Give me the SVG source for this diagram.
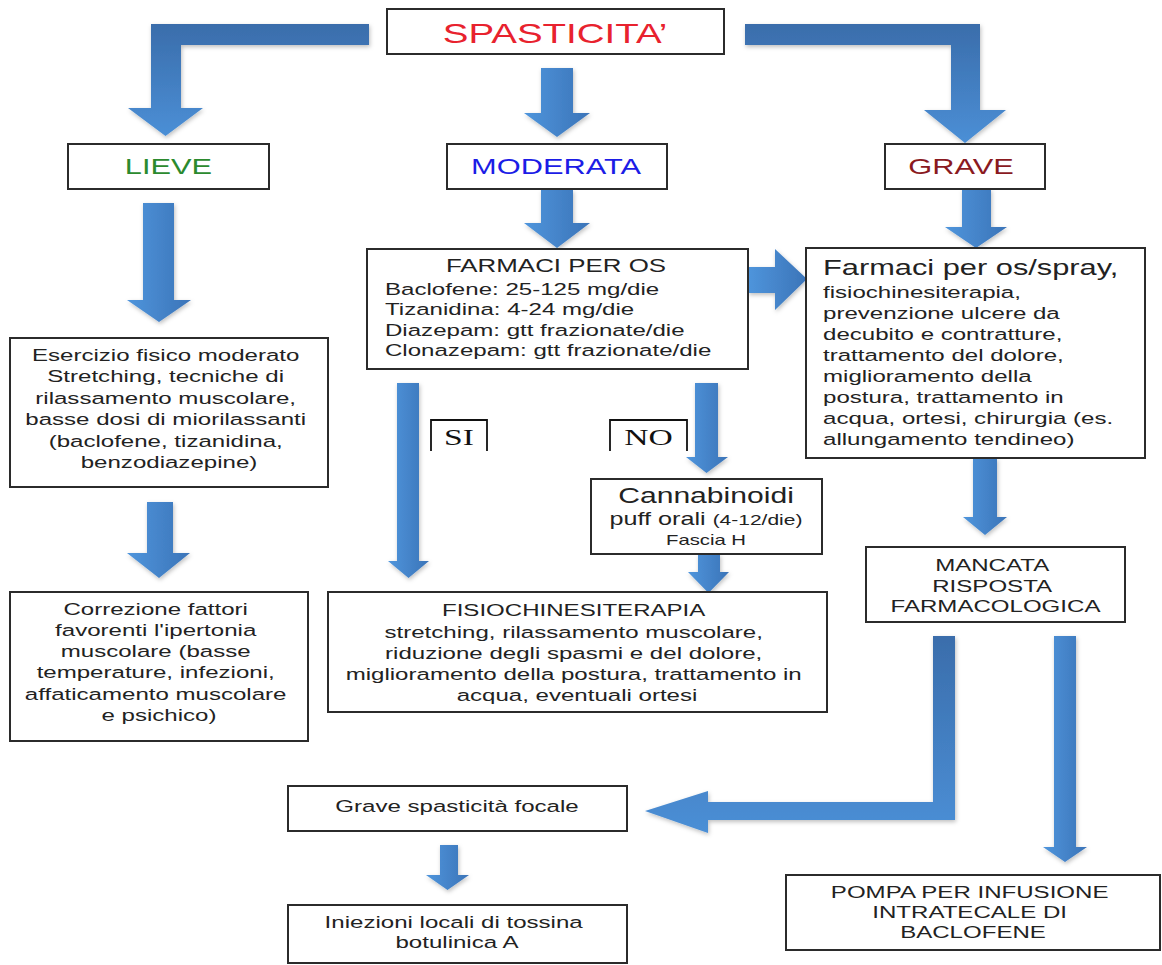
<svg xmlns="http://www.w3.org/2000/svg" width="1162" height="965" viewBox="0 0 1162 965">
<style>
.bx{fill:#fff;stroke:#2b2b2b;stroke-width:2}
.t{font-family:"Liberation Sans",Arial,Helvetica,sans-serif;font-size:17.2px;fill:#222}
.c{text-anchor:middle}
.hd{font-size:22px}
.sr{font-family:"Liberation Serif","Times New Roman",serif;font-size:24px;fill:#111;text-anchor:middle}
.lb{fill:none;stroke:#111;stroke-width:1.8}
.av{fill:url(#gv);filter:url(#sh)}
.al{fill:url(#gl);filter:url(#sh)}
</style>
<defs>
<linearGradient id="gv" x1="0" y1="0" x2="1" y2="0">
<stop offset="0" stop-color="#4f95dc"/>
<stop offset="1" stop-color="#3b74b8"/>
</linearGradient>
<linearGradient id="gl" x1="0" y1="0" x2="0" y2="1">
<stop offset="0" stop-color="#3a6dab"/>
<stop offset="1" stop-color="#4b8fd6"/>
</linearGradient>
<filter id="sh" x="-20%" y="-20%" width="140%" height="140%">
<feDropShadow dx="1" dy="2" stdDeviation="2" flood-color="#000" flood-opacity="0.25"/>
</filter>
</defs>
<rect width="1162" height="965" fill="#fff"/>

<g id="connectors">
<path class="al" d="M369 24 H151 V108 H128 L165.5 136 L203 108 H181 V45 H369 Z"/>
<path class="av" d="M541 68 H573 V113 H590 L557 137 L524 113 H541 Z"/>
<path class="al" d="M745 24 H980 V110 H1006 L965 143 L924 110 H951 V45 H745 Z"/>
<path class="av" d="M541 190 H573 V223 H590 L557 248 L524 223 H541 Z"/>
<path class="av" d="M962 189 H991 V227 H1007 L976 248 L945 227 H962 Z"/>
<path class="av" d="M143 203 H174 V300 H191 L159 322 L127 300 H143 Z"/>
<path class="av" d="M748 267 H775 V249 L807 279 L775 310 V293 H748 Z"/>
<path class="av" d="M397 383 H419 V561 H429 L408.5 578 L388 561 H397 Z"/>
<path class="av" d="M695 383 H718 V457 H728 L706.5 473 L686 457 H695 Z"/>
<path class="av" d="M698 554 H720 V572 H729 L708.5 593 L688 572 H698 Z"/>
<path class="av" d="M147 502 H173 V553 H190 L159 578 L127 553 H147 Z"/>
<path class="av" d="M973 458 H997 V517 H1007 L985 535 L963 517 H973 Z"/>
<path class="al" d="M933 636 H955 V820 H708 V833 L645 811 L708 791 V802 H933 Z"/>
<path class="av" d="M1054 636 H1076 V847 H1087 L1065 862 L1043 847 H1054 Z"/>
<path class="av" d="M440 845 H458 V875 H469 L447.5 890 L426 875 H440 Z"/>
</g>

<g id="spasticita">
<rect class="bx" x="387" y="9" width="337" height="45"/>
<text class="t c" transform="matrix(1.4 0 0 1 555 0)" x="0" y="43" style="font-size:27.5px;fill:#e8222e">SPASTICITA’</text>
</g>

<g id="lieve">
<rect class="bx" x="68" y="144" width="201" height="45"/>
<text class="t c hd" transform="matrix(1.4 0 0 1 168.5 0)" x="0" y="174" style="fill:#2b8a2e">LIEVE</text>
</g>

<g id="moderata">
<rect class="bx" x="447" y="144" width="220" height="45"/>
<text class="t c hd" transform="matrix(1.4 0 0 1 556 0)" x="0" y="174" style="fill:#1c1ce6">MODERATA</text>
</g>

<g id="grave">
<rect class="bx" x="885" y="144" width="160" height="45"/>
<text class="t c hd" transform="matrix(1.4 0 0 1 961 0)" x="0" y="174" style="fill:#8a1a1f">GRAVE</text>
</g>

<g id="farmaci-os">
<rect class="bx" x="367" y="249" width="381" height="120"/>
<text class="t c" transform="matrix(1.4 0 0 1 556 0)" x="0" y="272" style="font-size:18.5px">FARMACI PER OS</text>
<text class="t" transform="matrix(1.4 0 0 1 385 0)">
<tspan x="0" y="295">Baclofene: 25-125 mg/die</tspan>
<tspan x="0" y="315.5">Tizanidina: 4-24 mg/die</tspan>
<tspan x="0" y="336">Diazepam: gtt frazionate/die</tspan>
<tspan x="0" y="356.5">Clonazepam: gtt frazionate/die</tspan>
</text>
</g>

<g id="farmaci-spray">
<rect class="bx" x="806" y="248" width="339" height="210"/>
<text class="t" transform="matrix(1.4 0 0 1 823 0)" x="0" y="275" style="font-size:22px">Farmaci per os/spray,</text>
<text class="t" transform="matrix(1.4 0 0 1 823 0)">
<tspan x="0" y="298">fisiochinesiterapia,</tspan>
<tspan x="0" y="319">prevenzione ulcere da</tspan>
<tspan x="0" y="340">decubito e contratture,</tspan>
<tspan x="0" y="361">trattamento del dolore,</tspan>
<tspan x="0" y="382">miglioramento della</tspan>
<tspan x="0" y="403">postura, trattamento in</tspan>
<tspan x="0" y="424">acqua, ortesi, chirurgia (es.</tspan>
<tspan x="0" y="445">allungamento tendineo)</tspan>
</text>
</g>

<g id="esercizio">
<rect class="bx" x="10" y="338" width="318" height="149"/>
<text class="t c" transform="matrix(1.4 0 0 1 169 0)">
<tspan x="0" y="361">Esercizio fisico moderato</tspan>
<tspan x="0" y="382.5">Stretching, tecniche di</tspan>
<tspan x="0" y="404">rilassamento muscolare,</tspan>
<tspan x="0" y="425.5">basse dosi di miorilassanti</tspan>
<tspan x="0" y="447">(baclofene, tizanidina,</tspan>
<tspan x="0" y="468.5">benzodiazepine)</tspan>
</text>
</g>

<g id="correzione">
<rect class="bx" x="10" y="592" width="298" height="149"/>
<text class="t c" transform="matrix(1.4 0 0 1 159 0)">
<tspan x="0" y="615">Correzione fattori</tspan>
<tspan x="0" y="636">favorenti l'ipertonia</tspan>
<tspan x="0" y="657">muscolare (basse</tspan>
<tspan x="0" y="678.5">temperature, infezioni,</tspan>
<tspan x="0" y="700">affaticamento muscolare</tspan>
<tspan x="0" y="721">e psichico)</tspan>
</text>
</g>

<g id="si">
<path class="lb" d="M431 451 V420 H487 V451"/>
<text class="sr" transform="matrix(1.4 0 0 1 459 0)" x="0" y="445">SI</text>
</g>

<g id="no">
<path class="lb" d="M610 451 V420 H687 V451"/>
<text class="sr" transform="matrix(1.4 0 0 1 648.5 0)" x="0" y="445">NO</text>
</g>

<g id="cannabinoidi">
<rect class="bx" x="591" y="479" width="231" height="75"/>
<text class="t c" transform="matrix(1.4 0 0 1 706 0)" x="0" y="503" style="font-size:21.5px">Cannabinoidi</text>
<text class="t c" transform="matrix(1.4 0 0 1 706 0)" x="0" y="525"><tspan style="font-size:18px">puff orali </tspan><tspan style="font-size:15px">(4-12/die)</tspan></text>
<text class="t c" transform="matrix(1.4 0 0 1 706 0)" x="0" y="545" style="font-size:14.5px">Fascia H</text>
</g>

<g id="fisiochinesiterapia">
<rect class="bx" x="328" y="592" width="499" height="120"/>
<text class="t c" transform="matrix(1.4 0 0 1 577 0)">
<tspan x="0" y="616">FISIOCHINESITERAPIA</tspan>
<tspan x="0" y="638">stretching, rilassamento muscolare,</tspan>
<tspan x="0" y="659">riduzione degli spasmi e del dolore,</tspan>
<tspan x="0" y="680">miglioramento della postura, trattamento in</tspan>
<tspan x="0" y="701">acqua, eventuali ortesi</tspan>
</text>
</g>

<g id="mancata">
<rect class="bx" x="866" y="547" width="259" height="75"/>
<text class="t c" transform="matrix(1.4 0 0 1 995.5 0)">
<tspan x="0" y="571">MANCATA</tspan>
<tspan x="0" y="592">RISPOSTA</tspan>
<tspan x="0" y="612">FARMACOLOGICA</tspan>
</text>
</g>

<g id="grave-focale">
<rect class="bx" x="288" y="786" width="339" height="45"/>
<text class="t c" transform="matrix(1.4 0 0 1 457 0)" x="0" y="812">Grave spasticità focale</text>
</g>

<g id="iniezioni">
<rect class="bx" x="288" y="905" width="339" height="58"/>
<text class="t c" transform="matrix(1.4 0 0 1 457 0)">
<tspan x="0" y="928">Iniezioni locali di tossina</tspan>
<tspan x="0" y="948">botulinica A</tspan>
</text>
</g>

<g id="pompa">
<rect class="bx" x="786" y="875" width="374" height="75"/>
<text class="t c" transform="matrix(1.4 0 0 1 973 0)">
<tspan x="0" y="898">POMPA PER INFUSIONE</tspan>
<tspan x="0" y="918">INTRATECALE DI</tspan>
<tspan x="0" y="938">BACLOFENE</tspan>
</text>
</g>
</svg>
